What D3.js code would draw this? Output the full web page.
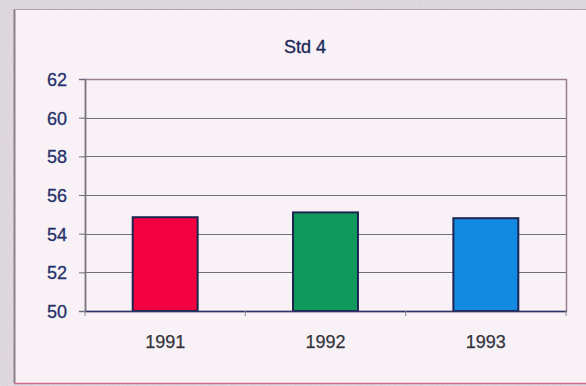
<!DOCTYPE html>
<html>
<head>
<meta charset="utf-8">
<script src="https://cdn.jsdelivr.net/npm/d3@7"></script>
<style>
  html, body { margin: 0; padding: 0; background: #d5ccd1; }
  svg { display: block; }
</style>
</head>
<body>
<svg id="chart" width="586" height="386"></svg>
<script>
// Chart data
const categories = ["1991", "1992", "1993"];
const values = [54.85, 55.1, 54.8];
const barColors = ["#f2003f", "#0f9a5c", "#138ae2"];
const yTicks = [50, 52, 54, 56, 58, 60, 62];
const titleText = "Std 4";

const svg = d3.select("#chart");
const W = 586, H = 386;
const FONT = "Arial, Liberation Sans, sans-serif";

// Grainy outer backdrop
const defs = svg.append("defs");
const grain = defs.append("filter").attr("id", "grain")
  .attr("x", 0).attr("y", 0).attr("width", "100%").attr("height", "100%");
grain.append("feTurbulence").attr("type", "fractalNoise")
  .attr("baseFrequency", 0.9).attr("numOctaves", 2).attr("seed", 3).attr("result", "n");
grain.append("feColorMatrix").attr("in", "n").attr("type", "matrix")
  .attr("values", "0 0 0 0 0.74  0 0 0 0 0.78  0 0 0 0 0.8  1.4 0 0 0 -0.4")
  .attr("result", "c");
grain.append("feComposite").attr("in", "c").attr("in2", "SourceGraphic").attr("operator", "in");

svg.append("rect").attr("width", W).attr("height", H).attr("fill", "#dcd2d8");
svg.append("rect").attr("width", W).attr("height", H).attr("fill", "#c8c0c8")
  .attr("filter", "url(#grain)").attr("opacity", 0.9);

// Chart panel
svg.append("rect").attr("x", 14).attr("y", 9).attr("width", W).attr("height", 374)
  .attr("fill", "#f8f2f7");
svg.append("line").attr("x1", 14.5).attr("x2", 14.5).attr("y1", 9).attr("y2", 383)
  .attr("stroke", "#8a8088").attr("stroke-width", 2);
svg.append("line").attr("x1", 14).attr("x2", W).attr("y1", 9.5).attr("y2", 9.5)
  .attr("stroke", "#b0a4ac").attr("stroke-width", 1);
svg.append("line").attr("x1", 14).attr("x2", W).attr("y1", 383.5).attr("y2", 383.5)
  .attr("stroke", "#d86a8a").attr("stroke-width", 1.5);

// Plot area
const plot = { left: 85, top: 79, right: 566, bottom: 311 };

const x = d3.scaleBand().domain(categories)
  .range([plot.left, plot.right]).paddingInner(0.595).paddingOuter(0.2975);
const y = d3.scaleLinear().domain([50, 62]).range([plot.bottom, plot.top]);

svg.append("text").attr("x", 305).attr("y", 53).attr("text-anchor", "middle")
  .attr("font-family", FONT).attr("font-size", 18)
  .attr("fill", "#1e2858").attr("stroke", "#1e2858").attr("stroke-width", 0.35)
  .text(titleText);

// Gridlines
svg.append("g").selectAll("line").data(yTicks.filter(d => d > 50 && d < 62)).join("line")
  .attr("x1", plot.left).attr("x2", plot.right)
  .attr("y1", d => Math.round(y(d)) + 0.5).attr("y2", d => Math.round(y(d)) + 0.5)
  .attr("stroke", "#6f6f78").attr("stroke-width", 1);

// Plot frame
svg.append("rect").attr("x", plot.left + 0.5).attr("y", plot.top + 0.5)
  .attr("width", plot.right - plot.left).attr("height", plot.bottom - plot.top)
  .attr("fill", "none").attr("stroke", "#9a7e8e").attr("stroke-width", 1.5);

// Bars
svg.append("g").selectAll("rect").data(values).join("rect")
  .attr("x", (d, i) => x(categories[i]))
  .attr("y", d => y(d))
  .attr("width", x.bandwidth())
  .attr("height", d => plot.bottom - y(d))
  .attr("fill", (d, i) => barColors[i])
  .attr("stroke", "#1c2450").attr("stroke-width", 2);

// Y axis
const yAxis = d3.axisLeft(y).tickValues(yTicks).tickSize(6).tickPadding(12);
const gy = svg.append("g").attr("transform", `translate(${plot.left},0)`).call(yAxis);
gy.select(".domain").attr("stroke", "#7a7480").attr("stroke-width", 1.5);
gy.selectAll(".tick line").attr("stroke", "#6a6a78");
gy.selectAll(".tick text").attr("font-family", FONT)
  .attr("font-size", 18).attr("fill", "#26306a")
  .attr("stroke", "#26306a").attr("stroke-width", 0.3).attr("dy", "0.36em");

// X axis
const xAxis = d3.axisBottom(x).tickSize(0).tickPadding(24);
const gx = svg.append("g").attr("transform", `translate(0,${plot.bottom})`).call(xAxis);
gx.select(".domain").attr("stroke", "#2e3466").attr("stroke-width", 1.5);
gx.selectAll(".tick text").attr("font-family", FONT)
  .attr("font-size", 18).attr("fill", "#34343c")
  .attr("stroke", "#34343c").attr("stroke-width", 0.25);

// Category separators below the axis
const bounds = d3.range(categories.length + 1).map(i => plot.left + i * (plot.right - plot.left) / categories.length);
svg.append("g").selectAll("line").data(bounds).join("line")
  .attr("x1", d => d).attr("x2", d => d)
  .attr("y1", plot.bottom).attr("y2", plot.bottom + 5)
  .attr("stroke", "#8a8a96").attr("stroke-width", 1);
</script>
</body>
</html>
